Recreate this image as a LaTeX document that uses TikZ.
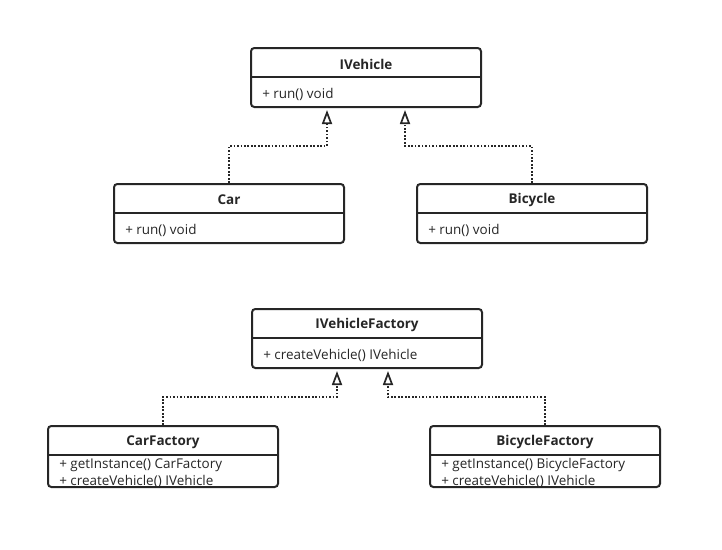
\documentclass[tikz,border=0pt]{standalone}
\usepackage{fontspec}
\setmainfont{Open Sans}
\usetikzlibrary{arrows.meta,calc}
\tikzset{
  x=0.75pt, y=-0.75pt,
  umlbox/.style={draw=black!85, line width=1.5pt, rounded corners=2.5pt, fill=white, minimum width=172.5pt, inner sep=0pt},
  divider/.style={draw=black!85, line width=1.2pt},
  ttl/.style={font=\fontsize{10.1}{12}\selectfont\bfseries, text=black!85, inner sep=0pt},
  mbr/.style={font=\fontsize{10.1}{12}\selectfont, text=black!85, inner sep=0pt, anchor=west},
  impl/.style={draw=black!85, line width=1.4pt, dash pattern=on 1.3pt off 1.3pt,
    -{Triangle[open, length=10.5pt, width=7.5pt, line width=1.3pt]}},
}
\begin{document}
\begin{tikzpicture}
\useasboundingbox (0,0) rectangle (722,550);
% IVehicle
\node[umlbox, minimum height=44.25pt] (iv) at (366,77.5) {};
\draw[divider] ($(iv.north west)+(0,30)$) -- ($(iv.north east)+(0,30)$);
\node[ttl] (ivt) at (366,64) {IVehicle};
\node[mbr] (ivm) at (262,94) {+ run() void};
% Car
\node[umlbox, minimum height=44.25pt] (car) at (229,213.5) {};
\draw[divider] ($(car.north west)+(0,30)$) -- ($(car.north east)+(0,30)$);
\node[ttl] (cart) at (229,200) {Car};
\node[mbr] (carm) at (125,230) {+ run() void};
% Bicycle
\node[umlbox, minimum height=44.25pt] (bic) at (532,213.5) {};
\draw[divider] ($(bic.north west)+(0,30)$) -- ($(bic.north east)+(0,30)$);
\node[ttl] (bict) at (532,200) {Bicycle};
\node[mbr] (bicm) at (428,230) {+ run() void};
% IVehicleFactory
\node[umlbox, minimum height=44.25pt] (ivf) at (367,338.5) {};
\draw[divider] ($(ivf.north west)+(0,30)$) -- ($(ivf.north east)+(0,30)$);
\node[ttl] (ivft) at (367,325) {IVehicleFactory};
\node[mbr] (ivfm) at (263,355) {+ createVehicle() IVehicle};
% CarFactory
\node[umlbox, minimum height=45.75pt] (cf) at (163,456.5) {};
\draw[divider] ($(cf.north west)+(0,30)$) -- ($(cf.north east)+(0,30)$);
\node[ttl] (cft) at (163,442) {CarFactory};
\node[mbr] (cfm1) at (59,465) {+ getInstance() CarFactory};
\node[mbr] (cfm2) at (59,481) {+ createVehicle() IVehicle};
% BicycleFactory
\node[umlbox, minimum height=45.75pt] (bf) at (545,456.5) {};
\draw[divider] ($(bf.north west)+(0,30)$) -- ($(bf.north east)+(0,30)$);
\node[ttl] (bft) at (545,442) {BicycleFactory};
\node[mbr] (bfm1) at (441,465) {+ getInstance() BicycleFactory};
\node[mbr] (bfm2) at (441,481) {+ createVehicle() IVehicle};
% connectors
\draw[impl] (car.north) -- ++(0,-37) -| ($(iv.south)+(-39,2)$);
\draw[impl] (bic.north) -- ++(0,-37) -| ($(iv.south)+(39,2)$);
\draw[impl] (cf.north) -- ++(0,-28) -| ($(ivf.south)+(-30,2)$);
\draw[impl] (bf.north) -- ++(0,-28) -| ($(ivf.south)+(21,2)$);
\end{tikzpicture}
\end{document}
